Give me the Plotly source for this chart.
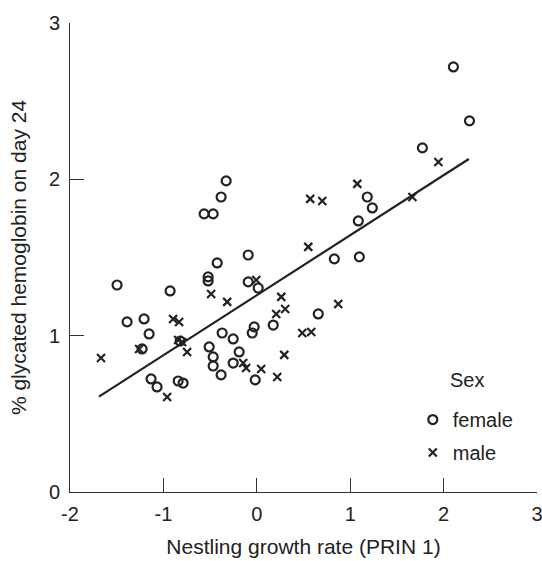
import plotly.graph_objects as go

# ---- data ----
female_x = [-1.496, -0.928, -1.389, -1.207, -1.153, -1.228, -0.821, -1.132, -1.068, -0.842,
            -0.789, -0.328, -0.382, -0.564, -0.467, -0.092, -0.424, -0.521, -0.521, -0.092,
            0.015, 0.176, -0.028, -0.049, -0.371, -0.253, -0.510, -0.467, -0.467, -0.382,
            -0.253, -0.189, -0.017, 0.658, 0.830, 1.098, 1.183, 1.237, 1.087, 1.773,
            2.105, 2.277]
female_y = [1.324, 1.286, 1.088, 1.107, 1.011, 0.915, 0.966, 0.723, 0.672, 0.710,
            0.697, 1.990, 1.887, 1.779, 1.779, 1.516, 1.465, 1.376, 1.350, 1.344,
            1.305, 1.068, 1.056, 1.017, 1.017, 0.979, 0.928, 0.864, 0.806, 0.749,
            0.825, 0.896, 0.717, 1.139, 1.491, 1.504, 1.887, 1.817, 1.734, 2.201,
            2.719, 2.374]

male_x = [-1.668, -1.260, -0.896, -0.832, -0.842, -0.800, -0.746, -0.960, -0.489, -0.317,
          -0.006, 0.551, 0.262, 0.304, 0.208, -0.146, -0.114, 0.047, 0.219, 0.294,
          0.487, 0.583, 0.872, 0.572, 0.701, 1.076, 1.666, 1.944]
male_y = [0.857, 0.915, 1.107, 1.088, 0.972, 0.960, 0.896, 0.608, 1.267, 1.216,
          1.356, 1.568, 1.248, 1.171, 1.139, 0.825, 0.793, 0.787, 0.736, 0.877,
          1.017, 1.024, 1.203, 1.875, 1.862, 1.971, 1.887, 2.111]

fit_x = [-1.69, 2.27]
fit_y = [0.61, 2.13]

x_ticks = [-2, -1, 0, 1, 2, 3]
x_tick_marks = [-2, -1, 0, 1, 2]
y_ticks = [0, 1, 2, 3]
y_tick_marks = [0, 1, 2]

x_title = "Nestling growth rate (PRIN 1)"
y_title = "% glycated hemoglobin on day 24"
legend_title = "Sex"

FONT = "Liberation Sans, Arial, sans-serif"
INK = "#222222"

fig = go.Figure()

fig.add_trace(go.Scatter(
    x=fit_x, y=fit_y, mode="lines",
    line=dict(color=INK, width=2.2), showlegend=False, hoverinfo="skip"))

fig.add_trace(go.Scatter(
    x=female_x, y=female_y, mode="markers", name="female", legendgroup="f",
    marker=dict(symbol="circle-open", size=9, color=INK, line=dict(width=2.2, color=INK))))

fig.add_trace(go.Scatter(
    x=male_x, y=male_y, mode="markers", name="male", legendgroup="m",
    marker=dict(symbol="x-thin-open", size=8, color=INK, line=dict(width=2.2, color=INK))))

# invisible trace to carry the label-only overlay axes
fig.add_trace(go.Scatter(x=[None], y=[None], xaxis="x2", yaxis="y2",
                         showlegend=False, hoverinfo="skip"))

axis_line = dict(showline=True, linecolor="#333333", linewidth=1.3,
                 showgrid=False, zeroline=False)

fig.update_layout(
    width=542, height=561,
    margin=dict(l=70, r=5, t=23, b=69, autoexpand=False),
    paper_bgcolor="white", plot_bgcolor="white",
    font=dict(family=FONT, size=20, color=INK),
    xaxis=dict(range=[-2, 3], tickvals=x_tick_marks, ticks="inside", ticklen=14,
               tickwidth=1.2, tickcolor="#333333", showticklabels=False,
               title=dict(text=x_title, font=dict(size=21), standoff=47),
               **axis_line),
    yaxis=dict(range=[0, 3], tickvals=y_tick_marks, ticks="inside", ticklen=14,
               tickwidth=1.2, tickcolor="#333333", showticklabels=False,
               title=dict(text=y_title, font=dict(size=21), standoff=36),
               **axis_line),
    xaxis2=dict(range=[-2, 3], overlaying="x", anchor="y2", side="bottom",
                tickvals=x_ticks, ticktext=[str(v) for v in x_ticks], ticks="",
                showline=False, showgrid=False, zeroline=False,
                tickfont=dict(size=20, color=INK), ticklabelstandoff=8,
                ticklabeloverflow="allow"),
    yaxis2=dict(range=[0, 3], overlaying="y", anchor="x2", side="left",
                tickvals=y_ticks, ticktext=[str(v) for v in y_ticks], ticks="",
                showline=False, showgrid=False, zeroline=False,
                tickfont=dict(size=20, color=INK), ticklabelstandoff=9,
                ticklabeloverflow="allow"),
    legend=dict(x=0.734, y=0.196, xanchor="left", yanchor="top",
                font=dict(size=20, color=INK), bgcolor="rgba(0,0,0,0)",
                tracegroupgap=4),
    annotations=[dict(text=legend_title, x=0.809, y=0.239, xref="paper", yref="paper",
                      xanchor="left", yanchor="middle", showarrow=False,
                      font=dict(size=20, color=INK))],
    showlegend=True,
)

fig.write_html("out.html", config={"displayModeBar": False},
               post_script="document.body.style.margin='0px';")
